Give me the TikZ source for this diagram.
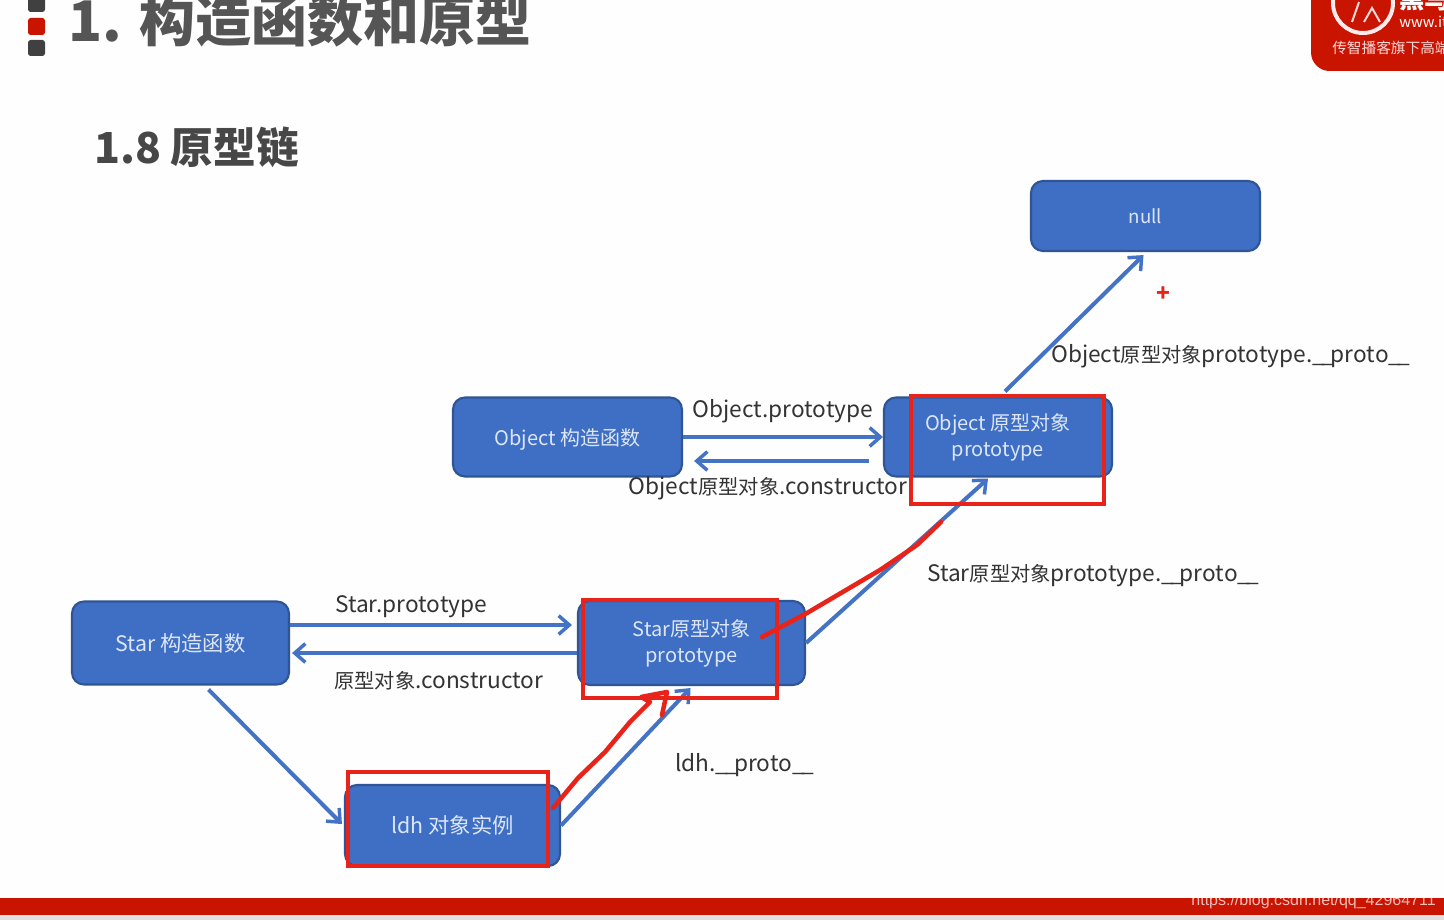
\documentclass[tikz,border=0pt]{standalone}
\usepackage{fontspec}
\usepackage{xcolor}
\usetikzlibrary{arrows.meta}
\setmainfont{Noto Sans CJK SC}
\newfontfamily\markfont{Liberation Sans}
\definecolor{slide}{HTML}{FDFEFD}
\definecolor{boxfill}{HTML}{3E6FC4}
\definecolor{boxline}{HTML}{2F5597}
\definecolor{boxtext}{HTML}{DCE6F6}
\definecolor{arrowblue}{HTML}{4472C4}
\definecolor{markred}{HTML}{E8231A}
\definecolor{barred}{HTML}{C91400}
\definecolor{headgray}{HTML}{555555}
\def\han#1{{\fontsize{15.2}{20}\selectfont #1}}
\def\lowline{\_\kern-2.6pt}
\tikzset{
  blockbox/.style={draw=boxline,line width=1.6pt,fill=boxfill,rounded corners=9pt,text=boxtext,align=center,inner sep=0pt},
  flowarrow/.style={draw=arrowblue,line width=3pt,-{Straight Barb[length=8pt,width=14pt,line width=2.6pt]}},
  redframe/.style={draw=markred,line width=2.6pt},
  scribble/.style={draw=markred,line width=3.4pt,line cap=round,line join=round},
  caption/.style={text=black!80,font=\fontsize{17}{20}\selectfont,inner sep=0pt}
}
\begin{document}
\begin{tikzpicture}[x=0.75pt,y=-0.75pt]
  \useasboundingbox (0,0) rectangle (1444,920);
  \clip (0,0) rectangle (1444,920);
  \fill[slide] (0,0) rectangle (1444,920);
  \fill[black!12] (0,915) rectangle (1444,920);
  \fill[barred] (0,898) rectangle (1444,915);
  \begin{scope}[rounded corners=2pt]
    \fill[black!75] (28,-5) rectangle (45,12);
    \fill[barred] (28,18) rectangle (45,35);
    \fill[black!75] (28,40) rectangle (45,56);
  \end{scope}
  \node[anchor=base west,inner sep=0pt,text=headgray,font=\fontsize{42}{44}\selectfont\bfseries] (maintitle) at (68,42) {1. 构造函数和原型};
  \node[anchor=base west,inner sep=0pt,text=black!72,font=\fontsize{32}{36}\selectfont\bfseries] (subtitle) at (94,164) {1.8 原型链};
  \fill[barred,rounded corners=14pt] (1311,-30) rectangle (1480,71);
  \draw[white!92!red,line width=3pt] (1363,3) circle (30);
  \draw[white!85!red,line width=1.5pt] (1352,22) -- (1359,2) (1364,22) -- (1372,8) -- (1380,22);
  \node[anchor=base west,inner sep=0pt,text=white,font=\fontsize{19}{20}\selectfont\bfseries] (logoname) at (1399,9) {黑马};
  \node[anchor=base west,inner sep=0pt,text=white,font=\fontsize{11}{12}\selectfont] (logourl) at (1399,28) {www.it};
  \node[anchor=base west,inner sep=0pt,text=white!85!red,font=\fontsize{11}{12}\selectfont] (logoline) at (1332,54) {传智播客旗下高端};

  \node[blockbox,minimum width=171.75pt,minimum height=52.5pt,font=\fontsize{14}{17}\selectfont] (nullbox) at (1145.5,216) {null};
  \node[blockbox,minimum width=171pt,minimum height=59.25pt,font=\fontsize{15}{19.5}\selectfont] (objectproto) at (998,437) {Object 原型对象\\prototype};
  \node[blockbox,minimum width=171.75pt,minimum height=59.25pt,text height=16pt,font=\fontsize{15}{17}\selectfont] (objectctor) at (567.5,437) {Object 构造函数};
  \node[blockbox,minimum width=162.75pt,minimum height=62.25pt,font=\fontsize{16}{19}\selectfont] (starctor) at (180.5,643) {Star 构造函数};
  \node[blockbox,minimum width=170.25pt,minimum height=63pt,font=\fontsize{15}{19.5}\selectfont] (starproto) at (691.5,643) {Star原型对象\\prototype};
  \node[blockbox,minimum width=161.25pt,minimum height=60.75pt,font=\fontsize{16}{19}\selectfont] (ldhbox) at (452.5,825.5) {ldh 对象实例};

  \draw[flowarrow] ([shift={(7,-5)}]objectproto.north) -- ([shift={(-2,3)}]nullbox.south);
  \draw[flowarrow] (objectctor.east) -- (objectctor.east -| objectproto.west);
  \draw[flowarrow] ([shift={(-14,24)}]objectproto.west) -- ([shift={(11,24)}]objectctor.east);
  \draw[flowarrow] ([yshift=13.5pt]starctor.east) -- ([shift={(-5,-18)}]starproto.west);
  \draw[flowarrow] ([yshift=-7.5pt]starproto.west) -- ([shift={(2,10)}]starctor.east);
  \draw[flowarrow] ([shift={(28,4)}]starctor.south) -- ([shift={(-2,-1.5)}]ldhbox.west);
  \draw[flowarrow] (ldhbox.east) -- ([shift={(-1,2)}]starproto.south);
  \draw[flowarrow] (starproto.east) -- ([shift={(-10,1)}]objectproto.south);

  \node[caption] (objprotolabel) at (783,411) {Object.prototype};
  \node[caption] (objctorlabel) at (768,488) {Object\han{原型对象}.constructor};
  \node[caption,anchor=west] (objchainlabel) at (1051,356) {Object\han{原型对象}prototype.\lowline\lowline proto\lowline\lowline};
  \node[caption,anchor=west] (starchainlabel) at (927,576) {Star\han{原型对象}prototype.\lowline\lowline proto\lowline\lowline};
  \node[caption,anchor=west] (starprotolabel) at (335,607) {Star.prototype};
  \node[caption,anchor=west] (starctorlabel) at (334,681) {\han{原型对象}.constructor};
  \node[caption,anchor=west] (ldhlabel) at (675,765) {ldh.\lowline\lowline proto\lowline\lowline};

  \draw[redframe] (911,396) rectangle (1104,504);
  \draw[redframe] (583,600) rectangle (777,698);
  \draw[redframe] (348,772) rectangle (548,866);
  \draw[scribble] (762,637) -- (807,613) -- (880,570) -- (917,545) -- (941,522);
  \draw[scribble] (553,808) -- (578,778) -- (605,752) -- (630,722) -- (650,702) -- (641,697) -- (667,692) -- (662,715);
  \node[inner sep=0pt,text=markred,font=\fontsize{17}{20}\selectfont\bfseries] (cursormark) at (1163,294) {+};
  \node[anchor=east,inner sep=0pt,text=white,opacity=0.72,font=\markfont\fontsize{12}{14}\selectfont] (watermark) at (1436,901) {https://blog.csdn.net/qq\_42964711};
\end{tikzpicture}
\end{document}
